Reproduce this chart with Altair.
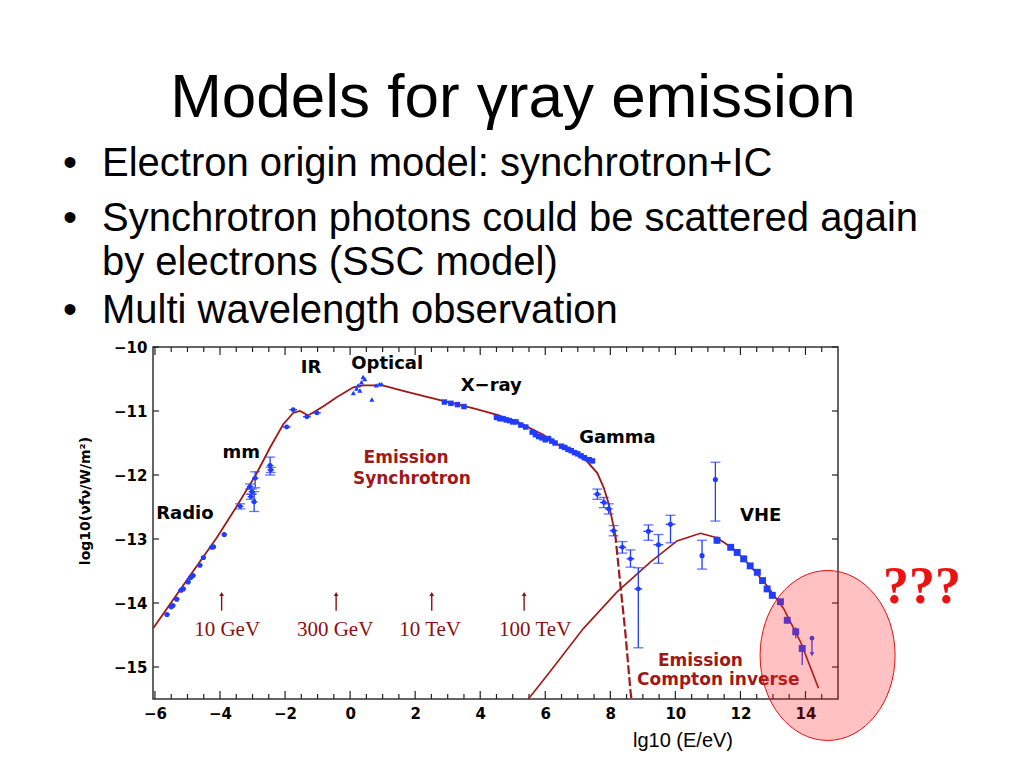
import altair as alt
import pandas as pd

# ---------------- model curves ----------------
syn_x = [-6.06, -5.0, -4.1, -3.5, -2.9, -2.46, -2.06, -1.75, -1.54, -1.29, -0.83, -0.4, 0.1, 0.4,
         1.0, 1.6, 2.3, 3.08, 3.8, 4.52, 5.14, 5.94, 6.37, 6.9, 7.29, 7.6, 7.8, 7.95, 8.15]
syn_y = [-14.4, -13.63, -12.98, -12.5, -12.0, -11.57, -11.21, -11.03, -11.0, -11.07, -10.93, -10.78,
         -10.63, -10.6, -10.6, -10.68, -10.77, -10.87, -10.96, -11.06, -11.17, -11.37, -11.52, -11.66,
         -11.79, -11.97, -12.2, -12.45, -12.92]
syn_tail_x = [8.15, 8.3, 8.46, 8.62, 8.65]
syn_tail_y = [-12.92, -13.67, -14.45, -15.38, -15.5]
ic_x = [5.48, 6.15, 7.17, 8.2, 9.23, 10.05, 10.77, 11.28, 11.8, 12.3, 12.82, 13.33, 13.85, 14.4]
ic_y = [-15.5, -15.07, -14.4, -13.83, -13.36, -13.03, -12.91, -12.98, -13.16, -13.42, -13.73,
        -14.09, -14.61, -15.33]

# ---------------- measurements ----------------
radio_x = [-5.63, -5.5, -5.45, -5.33, -5.2, -5.13, -4.98, -4.9, -4.83, -4.62, -4.51, -4.25, -4.2, -3.87]
radio_y = [-14.18, -14.06, -14.04, -13.94, -13.8, -13.78, -13.67, -13.6, -13.57, -13.41, -13.29,
           -13.13, -13.12, -12.93]

mm_x = [-3.38, -3.08, -3.02, -3.05, -2.95, -2.92, -2.46, -2.44]
mm_y = [-12.49, -12.18, -12.26, -12.34, -12.42, -12.05, -11.85, -11.92]
mm_lo = [-12.53, -12.22, -12.3, -12.38, -12.57, -12.2, -12.0, -11.96]
mm_hi = [-12.45, -12.14, -12.22, -12.3, -12.26, -11.95, -11.72, -11.88]

ir_x = [-1.95, -1.75, -1.33, -1.02]
ir_y = [-11.25, -10.98, -11.09, -11.03]

opt_x = [0.1, 0.2, 0.25, 0.3, 0.35, 0.4, 0.45, 0.67, 0.8, 0.9, 0.97]
opt_y = [-10.72, -10.65, -10.6, -10.68, -10.55, -10.47, -10.5, -10.82, -10.6, -10.58, -10.58]

xray_x = [2.9, 3.1, 3.3, 3.5, 4.5, 4.6, 4.7, 4.8, 4.9, 5.0, 5.1, 5.25, 5.4, 5.6, 5.7, 5.8, 5.9,
          6.0, 6.1, 6.2, 6.3, 6.5, 6.6, 6.7, 6.8, 6.9, 7.0, 7.1, 7.2, 7.35, 7.45]
xray_y = [-10.86, -10.88, -10.9, -10.93, -11.1, -11.12, -11.12, -11.14, -11.15, -11.17, -11.17,
          -11.22, -11.25, -11.33, -11.37, -11.4, -11.42, -11.45, -11.43, -11.47, -11.5, -11.55,
          -11.57, -11.6, -11.62, -11.65, -11.67, -11.7, -11.73, -11.76, -11.78]

gam_x = [7.6, 7.8, 7.95, 8.1, 8.37, 8.62, 8.86]
gam_y = [-12.3, -12.43, -12.53, -12.87, -13.13, -13.31, -13.78]
gam_lo = [-12.38, -12.51, -12.61, -12.95, -13.22, -13.44, -14.7]
gam_hi = [-12.22, -12.35, -12.45, -12.79, -13.04, -13.17, -13.45]

mid_x = [9.17, 9.48, 9.85, 10.82, 11.23]
mid_y = [-12.88, -13.09, -12.77, -13.26, -12.07]
mid_lo = [-13.02, -13.38, -13.06, -13.47, -12.72]
mid_hi = [-12.78, -12.93, -12.63, -13.02, -11.8]
mid_xerr = [0.15, 0.15, 0.15, 0.0, 0.0]

vhe_x = [11.28, 11.7, 11.9, 12.1, 12.3, 12.52, 12.68, 12.82, 12.98, 13.23, 13.44, 13.7, 13.9]
vhe_y = [-13.02, -13.13, -13.21, -13.31, -13.42, -13.52, -13.65, -13.78, -13.88, -13.98, -14.27,
         -14.45, -14.71]
vhe_lo = [-13.08, -13.17, -13.25, -13.35, -13.46, -13.56, -13.69, -13.82, -13.92, -14.02, -14.32,
          -14.55, -14.97]
vhe_hi = [-12.96, -13.09, -13.17, -13.27, -13.38, -13.48, -13.61, -13.74, -13.84, -13.94, -14.22,
          -14.38, -14.65]

ul_x = [14.2]
ul_y = [-14.55]
ul_y2 = [-14.8]

band_labels = ["Radio", "mm", "IR", "Optical", "X\u2212ray", "Gamma", "VHE"]
band_x = [-5.08, -3.35, -1.2, 1.14, 4.34, 8.22, 12.62]
band_y = [-12.61, -11.65, -10.33, -10.26, -10.61, -11.42, -12.64]

emis_labels = ["Emission", "Synchrotron", "Emission", "Compton inverse"]
emis_x = [1.72, 1.9, 10.77, 11.32]
emis_y = [-11.73, -12.07, -14.9, -15.21]

arrow_x = [-3.95, -0.43, 2.51, 5.35]
arrow_tail = [-14.12, -14.12, -14.12, -14.12]
arrow_head = [-13.86, -13.86, -13.86, -13.86]
arrow_labels = ["10 GeV", "300 GeV", "10 TeV", "100 TeV"]
arrow_lab_x = [-3.78, -0.46, 2.46, 5.69]
arrow_lab_y = [-14.42, -14.42, -14.42, -14.42]

circ_x = [14.68]
circ_y = [-14.82]

x_major = [-6, -4, -2, 0, 2, 4, 6, 8, 10, 12, 14]
x_minor = [v / 2 for v in range(-11, 30) if v % 4 != 0]
y_major = [-15, -14, -13, -12, -11, -10]

# ---------------- styles ----------------
BLUE = "#1f3cff"
DRED = "#a01818"
W, H = 685, 352

XS = alt.Scale(domain=[-6.06, 15], nice=False, zero=False)
YS = alt.Scale(domain=[-15.5, -10], nice=False, zero=False)
XA = alt.Axis(values=x_major, title=None, ticks=False, domain=False, grid=False, format="d",
              labelFont="DejaVu Sans", labelFontWeight="bold", labelFontSize=15,
              labelColor="black", labelPadding=7, labelOverlap=False, labelFlush=False)
YA = alt.Axis(values=y_major, title=None, ticks=False, domain=False, grid=False, format="d",
              labelFont="DejaVu Sans", labelFontWeight="bold", labelFontSize=15,
              labelColor="black", labelPadding=6, labelOverlap=False, labelFlush=False)


def X(f="x"):
    return alt.X(f, type="quantitative", scale=XS, axis=XA)


def Y(f="y"):
    return alt.Y(f, type="quantitative", scale=YS, axis=YA)


def df(**cols):
    return pd.DataFrame(cols)


layers = []

# frame ticks (inward)
tick_x = pd.DataFrame({"x": x_major + x_minor,
                       "major": [True] * len(x_major) + [False] * len(x_minor)})
for y0, sgn in [(H, -1), (0, 1)]:
    for major, ln in [(True, 8), (False, 5)]:
        layers.append(alt.Chart(tick_x[tick_x.major == major]).mark_rule(color="#222", strokeWidth=1.2)
                      .encode(x=X(), y=alt.value(y0), y2=alt.value(y0 + sgn * ln)))
tick_y = pd.DataFrame({"y": y_major})
for x0, sgn in [(0, 1), (W, -1)]:
    layers.append(alt.Chart(tick_y).mark_rule(color="#222", strokeWidth=1.2)
                  .encode(y=Y(), x=alt.value(x0), x2=alt.value(x0 + sgn * 6)))

# model curves
layers.append(alt.Chart(df(x=syn_x, y=syn_y)).mark_line(color=DRED, strokeWidth=1.8).encode(x=X(), y=Y()))
layers.append(alt.Chart(df(x=syn_tail_x, y=syn_tail_y)).mark_line(color=DRED, strokeWidth=2.2, strokeDash=[9, 3])
              .encode(x=X(), y=Y()))
layers.append(alt.Chart(df(x=ic_x, y=ic_y)).mark_line(color=DRED, strokeWidth=1.6).encode(x=X(), y=Y()))


def points(xs, ys, xerr, lo=None, hi=None, shape="circle", size=22, cap=False):
    d = df(x=xs, y=ys)
    e = xerr if isinstance(xerr, list) else [xerr] * len(xs)
    d["xlo"] = [a - b for a, b in zip(xs, e)]
    d["xhi"] = [a + b for a, b in zip(xs, e)]
    out = []
    out.append(alt.Chart(d).mark_rule(color=BLUE, strokeWidth=1.3)
               .encode(x=X("xlo"), x2="xhi", y=Y()))
    if lo is not None:
        d["lo"] = lo
        d["hi"] = hi
        out.append(alt.Chart(d).mark_rule(color=BLUE, strokeWidth=1.3)
                   .encode(x=X(), y=Y("lo"), y2="hi"))
        if cap:
            for f in ["lo", "hi"]:
                out.append(alt.Chart(d).mark_tick(color=BLUE, orient="horizontal", size=10, thickness=1.3)
                           .encode(x=X(), y=Y(f)))
    out.append(alt.Chart(d).mark_point(color=BLUE, filled=True, opacity=1, shape=shape, size=size)
               .encode(x=X(), y=Y()))
    return out


layers += points(radio_x, radio_y, 0.08, shape="circle", size=26)
layers += points(mm_x, mm_y, 0.1, mm_lo, mm_hi, size=22, cap=True)
layers += points(ir_x, ir_y, 0.12, size=24)
layers += points(opt_x, opt_y, 0.03, shape="triangle-up", size=26)
layers += points(xray_x, xray_y, 0.08, shape="square", size=30)
layers += points(gam_x, gam_y, 0.12, gam_lo, gam_hi, size=24, cap=True)
layers += points(mid_x, mid_y, mid_xerr, mid_lo, mid_hi, size=26, cap=True)
layers += points(vhe_x, vhe_y, 0.06, vhe_lo, vhe_hi, shape="square", size=48)

# upper limit
uld = df(x=ul_x, y=ul_y, y2=ul_y2)
layers.append(alt.Chart(uld).mark_rule(color=BLUE, strokeWidth=1.3).encode(x=X(), y=Y(), y2="y2"))
layers.append(alt.Chart(uld).mark_point(color=BLUE, filled=True, opacity=1, size=22).encode(x=X(), y=Y()))
layers.append(alt.Chart(uld).mark_point(color=BLUE, filled=True, opacity=1, shape="triangle-down", size=22)
              .encode(x=X(), y=Y("y2")))

# energy arrows
ad = df(x=arrow_x, y=arrow_tail, y2=arrow_head)
layers.append(alt.Chart(ad).mark_rule(color="#8b1010", strokeWidth=1.4).encode(x=X(), y=Y(), y2="y2"))
layers.append(alt.Chart(ad).mark_point(color="#8b1010", filled=True, opacity=1, shape="triangle-up", size=22)
              .encode(x=X(), y=Y("y2")))
layers.append(alt.Chart(df(x=arrow_lab_x, y=arrow_lab_y, t=arrow_labels))
              .mark_text(font="Liberation Serif", fontSize=21, color="#8b1010")
              .encode(x=X(), y=Y(), text="t:N"))

# band labels
layers.append(alt.Chart(df(x=band_x, y=band_y, t=band_labels))
              .mark_text(font="DejaVu Sans", fontWeight="bold", fontSize=18, color="black")
              .encode(x=X(), y=Y(), text="t:N"))
layers.append(alt.Chart(df(x=emis_x, y=emis_y, t=emis_labels))
              .mark_text(font="DejaVu Sans", fontWeight="bold", fontSize=17, color=DRED)
              .encode(x=X(), y=Y(), text="t:N"))

# highlight ellipse
ellipse = ("M 0.794 0 C 0.794 0.5523 0.4385 1 0 1 C -0.4385 1 -0.794 0.5523 -0.794 0 "
           "C -0.794 -0.5523 -0.4385 -1 0 -1 C 0.4385 -1 0.794 -0.5523 0.794 0 Z")
layers.append(alt.Chart(df(x=circ_x, y=circ_y))
              .mark_point(shape=ellipse, size=28900, filled=True, fill="#ff2020", fillOpacity=0.28,
                          stroke="#dd1111", strokeOpacity=1, strokeWidth=1)
              .encode(x=X(), y=Y()))

# slide text
one = pd.DataFrame({"k": [0]})


def slide_text(txt, x, y, **kw):
    return alt.Chart(one).mark_text(text=txt, **kw).encode(x=alt.value(x), y=alt.value(y))


layers.append(slide_text("Models for \u03b3ray emission", 360, -230, font="Liberation Sans", fontSize=62,
                         align="center", baseline="alphabetic", color="black"))
bullets = ["Electron origin model: synchrotron+IC",
           "Synchrotron photons could be scattered again",
           "by electrons (SSC model)",
           "Multi wavelength observation"]
bullet_y = [-171, -116, -72, -24]
has_dot = [True, True, False, True]
for txt, by, dot in zip(bullets, bullet_y, has_dot):
    layers.append(slide_text(txt, -51, by, font="Liberation Sans", fontSize=40, align="left",
                             baseline="alphabetic", color="black"))
    if dot:
        layers.append(slide_text("\u2022", -83, by, font="Liberation Sans", fontSize=40, align="center",
                                 baseline="alphabetic", color="black"))
layers.append(slide_text("log10(\u03bdf\u03bd/W/m\u00b2)", -67, 154, font="DejaVu Sans", fontWeight="bold",
                         fontSize=14, angle=270, align="center", baseline="middle", color="black"))
layers.append(slide_text("lg10 (E/eV)", 530, 400, font="Liberation Sans", fontSize=20, align="center",
                         baseline="alphabetic", color="black"))
layers.append(slide_text("???", 769, 256, font="Liberation Serif", fontWeight="bold", fontSize=52,
                         align="center", baseline="alphabetic", color="#ee1111"))

chart = (alt.layer(*layers)
         .properties(width=W, height=H, autosize=alt.AutoSizeParams(type="none"),
                     padding={"left": 145, "top": 339, "right": 178, "bottom": 61},
                     background="white")
         .configure_view(stroke="#333", strokeWidth=1.5))

chart.save("out.html", embed_options={"renderer": "svg", "actions": False})
